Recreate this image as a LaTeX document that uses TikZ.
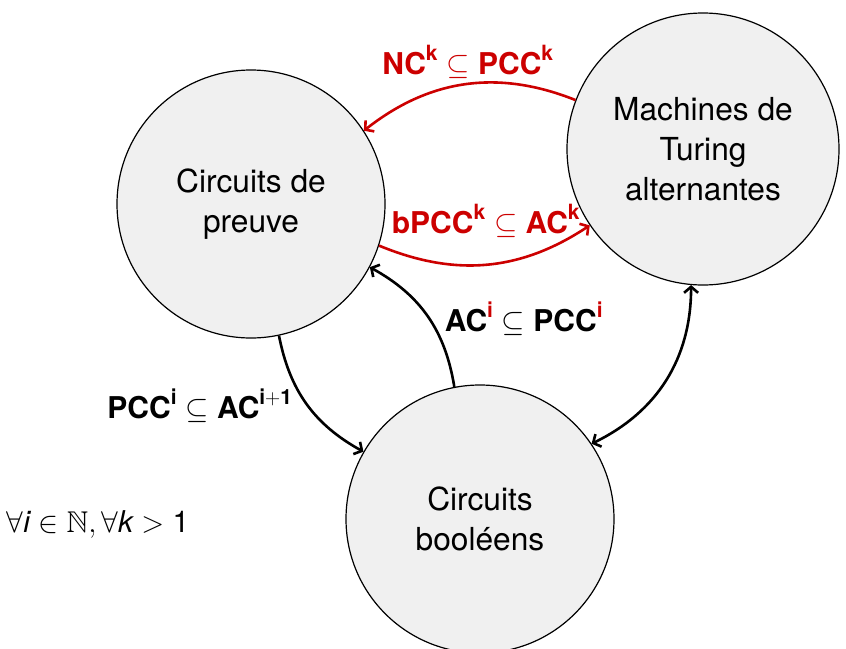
\RequirePackage{fix-cm}
\documentclass[tikz,border=0pt]{standalone}
\usepackage{amsmath,amssymb}
\usepackage{fontspec}
\setmainfont{TeX Gyre Heros}
\usetikzlibrary{arrows.meta}
\definecolor{dred}{RGB}{204,0,0}
\definecolor{cfill}{RGB}{240,240,240}
\begin{document}
\begin{tikzpicture}[x=1pt,y=1pt,
  state/.style={circle, draw=black, line width=1.2pt, fill=cfill, minimum size=268pt, inner sep=0pt, align=center, font=\fontsize{31.7}{40}\selectfont},
  conn/.style={line width=2.6pt, -{Straight Barb[length=6pt,width=14pt]}},
  dconn/.style={line width=2.6pt, {Straight Barb[length=6pt,width=14pt]}-{Straight Barb[length=6pt,width=14pt]}},
  lbl/.style={font=\fontsize{30}{36}\selectfont, inner sep=0pt}]
\useasboundingbox (0,0) rectangle (846,-648);
\node[state] (P) at (251,-204) {Circuits de\\preuve};
\node[state, minimum size=272pt] (M) at (703,-149) {Machines de\\Turing\\alternantes};
\node[state] (B) at (480,-519) {Circuits\\booléens};

\draw[conn, dred] (M.159) to[bend right=30] (P.33);
\draw[conn, dred] (P.-18) to[bend right=28] (M.214);
\draw[conn] (B.101) to[bend right=26] (P.-28);
\draw[conn] (P.-78) to[bend right=25] (B.150);
\draw[dconn] (M.-95) to[bend left=32] (B.34);

\node[lbl, text=dred] (l1) at (468,-62) {$\textbf{NC}^{\textbf{k}} \subseteq \textbf{PCC}^{\textbf{k}}$};
\node[lbl, text=dred] (l2) at (486,-221) {$\textbf{bPCC}^{\textbf{k}} \subseteq \textbf{AC}^{\textbf{k}}$};
\node[lbl] (l3) at (524,-319) {$\textbf{AC}^{\textcolor{dred}{\textbf{i}}} \subseteq \textbf{PCC}^{\textcolor{dred}{\textbf{i}}}$};
\node[lbl] (l4) at (200,-406) {$\textbf{PCC}^{\textbf{i}} \subseteq \textbf{AC}^{\textbf{i}+\textbf{1}}$};
\node[lbl] (l5) at (98,-524) {$\forall \textit{i} \in \mathbb{N}, \forall \textit{k} > \text{1}$};
\end{tikzpicture}
\end{document}
